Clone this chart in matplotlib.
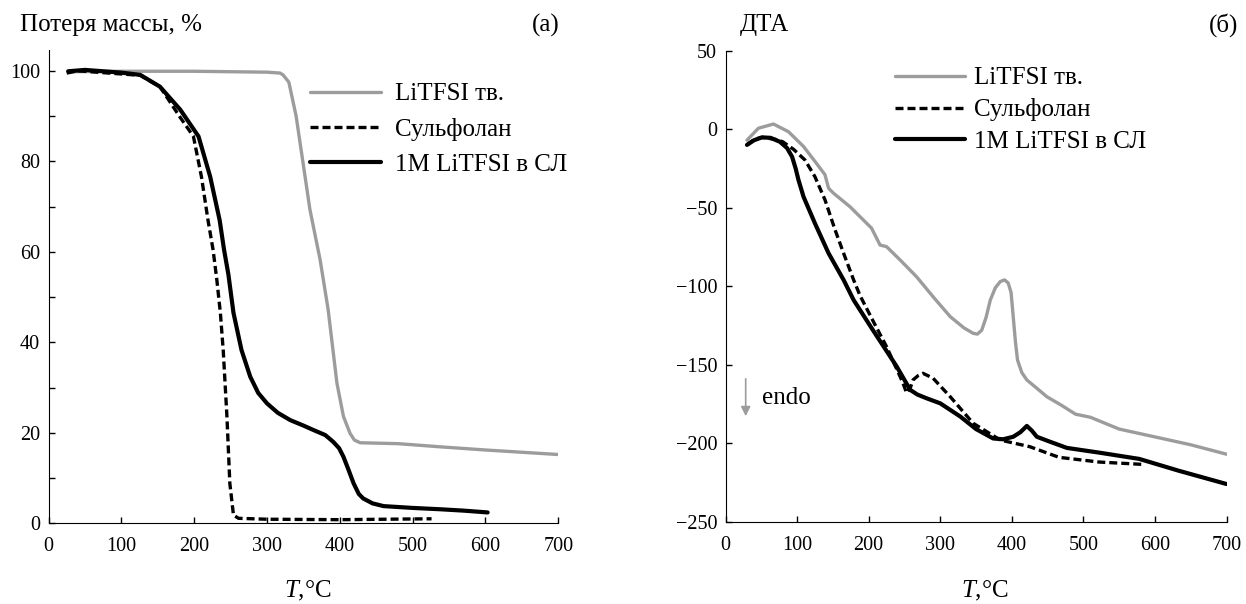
import matplotlib
matplotlib.use("Agg")
import matplotlib.pyplot as plt

plt.rcParams['font.family'] = ['Liberation Serif', 'DejaVu Serif']
plt.rcParams['mathtext.fontset'] = 'custom'
plt.rcParams['mathtext.it'] = 'Liberation Serif:italic'
plt.rcParams['mathtext.rm'] = 'Liberation Serif'

GRAY = '#9c9c9c'
W, H = 1246, 604

# (a) TGA, mass %
tga_litfsi_t = [28, 100, 200, 300, 318, 322, 330, 340, 359, 373, 384, 396, 405, 414, 420, 428,
                480, 538, 600, 700]
tga_litfsi_m = [99.8, 99.9, 99.9, 99.7, 99.5, 99.1, 97.5, 90, 69.3, 58.2, 47.2, 31, 23.6, 19.9,
                18.4, 17.8, 17.6, 16.9, 16.2, 15.2]

tga_sulf_t = [25, 40, 100, 126, 153, 180, 199, 210, 219, 226, 231, 236, 240, 245, 249, 254,
              261, 300, 400, 526]
tga_sulf_m = [99.5, 100, 99.3, 99, 96.5, 89.9, 85.5, 76.6, 67, 60.4, 54, 46.5, 38, 23.6,
              8.8, 1.8, 1.1, 0.9, 0.8, 1.0]

tga_sol_t = [27, 50, 100, 126, 153, 181, 206, 222, 235, 241, 247, 254, 265, 277, 288, 300,
             315, 332, 350, 364, 380, 391, 399, 405, 412, 419, 426, 432, 445, 460, 500, 538,
             570, 603]
tga_sol_m = [99.9, 100.2, 99.6, 99.1, 96.5, 91.4, 85.5, 76.6, 67, 60.5, 55, 46.5, 38.3,
             32.4, 28.8, 26.5, 24.4, 22.8, 21.6, 20.6, 19.5, 18, 16.6, 14.7, 11.8, 8.8, 6.5,
             5.5, 4.4, 3.8, 3.4, 3.1, 2.8, 2.4]

# (б) DTA
dta_litfsi_t = [30, 46, 67, 88, 109, 127, 139, 144, 151, 174, 204, 216, 225, 244, 267, 290,
                314, 333, 346, 352, 358, 364, 370, 377, 384, 390, 395, 399, 402, 405, 408,
                414, 421, 435, 449, 470, 489, 510, 550, 600, 650, 700]
dta_litfsi_v = [-7, 0.6, 3.3, -1.6, -11, -21.7, -29, -37.6, -40.8, -49.4, -63, -73.8, -74.8,
                -83.3, -94, -106.7, -119.4, -126.5, -130, -130.5, -128, -120, -108.8, -101,
                -97, -96, -98, -104, -119.4, -135, -147, -155, -159.7, -165, -170.4, -176,
                -181.5, -183.5, -191, -196, -201, -207]

dta_sulf_t = [30, 40, 51, 70, 80, 95, 111, 125, 139, 153, 165, 179, 188, 206, 225, 244, 249,
              253, 258, 262, 269, 276, 290, 314, 346, 384, 425, 466, 522, 583]
dta_sulf_v = [-10, -6.5, -5.2, -6.5, -8, -12.8, -19.6, -30.3, -45, -64, -79, -96, -106,
              -122, -138.5, -157.6, -163, -168, -165, -159.7, -157, -155.5, -158.6, -170.4,
              -187.3, -198, -202.2, -209, -212, -213.5]

dta_sol_t = [30, 40, 51, 63, 76, 86, 93, 98, 102, 109, 125, 144, 165, 179, 206, 239, 258,
             268, 281, 300, 328, 350, 374, 388, 402, 412, 421, 428, 435, 453, 477, 522, 578,
             633, 700]
dta_sol_v = [-10, -7, -5.2, -5.5, -8, -12, -17.5, -25, -32.4, -43, -60, -79, -96, -108.8,
             -128, -151, -166, -169, -171.4, -174.6, -183, -191, -197, -197.5, -195.9, -193,
             -189, -192, -195.9, -199, -203, -206, -210, -217.5, -226]

labels = ["LiTFSI тв.", "Сульфолан", "1M LiTFSI в СЛ"]

fig = plt.figure(figsize=(W / 100, H / 100), dpi=100)
ax1 = fig.add_axes([48.5 / W, 1 - 523.3 / H, 509.8 / W, 473.3 / H])
ax2 = fig.add_axes([725.5 / W, 1 - 521.7 / H, 501 / W, 471 / H])


def style(ax):
    for s in ['top', 'right']:
        ax.spines[s].set_visible(False)
    ax.tick_params(direction='in', which='both', length=4.5, width=1, labelsize=14.5)
    ax.tick_params(axis='x', pad=10)
    ax.tick_params(axis='y', pad=6)


def draw(ax, t1, v1, t2, v2, t3, v3):
    ax.plot(t1, v1, color=GRAY, lw=2.4, label=labels[0], solid_capstyle='round')
    ax.plot(t2, v2, color='black', lw=2.4, dashes=(2.4, 1.2), label=labels[1])
    ax.plot(t3, v3, color='black', lw=3.0, label=labels[2], solid_capstyle='round')


draw(ax1, tga_litfsi_t, tga_litfsi_m, tga_sulf_t, tga_sulf_m, tga_sol_t, tga_sol_m)
ax1.set_xlim(0, 700)
ax1.set_ylim(0, 104.6)
ax1.set_xticks(range(0, 701, 100))
ax1.set_yticks(range(0, 101, 20))
ax1.set_yticks(range(10, 100, 20), minor=True)
style(ax1)
ax1.legend(loc='upper left', bbox_to_anchor=(310 / W, 1 - 83 / H),
           bbox_transform=fig.transFigure, frameon=False, fontsize=18,
           handlelength=2.85, handletextpad=0.55, labelspacing=0.5, borderpad=0, borderaxespad=0)

draw(ax2, dta_litfsi_t, dta_litfsi_v, dta_sulf_t, dta_sulf_v, dta_sol_t, dta_sol_v)
ax2.set_xlim(0, 700)
ax2.set_ylim(-250, 50)
ax2.set_xticks(range(0, 701, 100))
ax2.set_yticks(range(-250, 51, 50))
style(ax2)
ax2.legend(loc='upper left', bbox_to_anchor=(895 / W, 1 - 67 / H),
           bbox_transform=fig.transFigure, frameon=False, fontsize=18,
           handlelength=2.8, handletextpad=0.35, labelspacing=0.35, borderpad=0, borderaxespad=0)

ax2.annotate('', xy=(745.7 / W, 1 - 419 / H), xytext=(745.7 / W, 1 - 376 / H),
             xycoords='figure fraction',
             arrowprops=dict(arrowstyle='-|>', color=GRAY, lw=1.2, mutation_scale=14))
fig.text(761.7 / W, 1 - 398 / H, 'endo', fontsize=18, va='center', ha='left')

fig.text(19.8 / W, 1 - 25 / H, 'Потеря массы, %', fontsize=18, va='center', ha='left')
fig.text(559.5 / W, 1 - 25 / H, '(а)', fontsize=18, va='center', ha='right')
fig.text(739.8 / W, 1 - 25 / H, 'ДТА', fontsize=18, va='center', ha='left')
fig.text(1238 / W, 1 - 25 / H, '(б)', fontsize=18, va='center', ha='right')
fig.text(308 / W, 1 - 591 / H, r'$T$,°C', fontsize=18, va='center', ha='center')
fig.text(985 / W, 1 - 591 / H, r'$T$,°C', fontsize=18, va='center', ha='center')

fig.savefig('out.png', dpi=100)
